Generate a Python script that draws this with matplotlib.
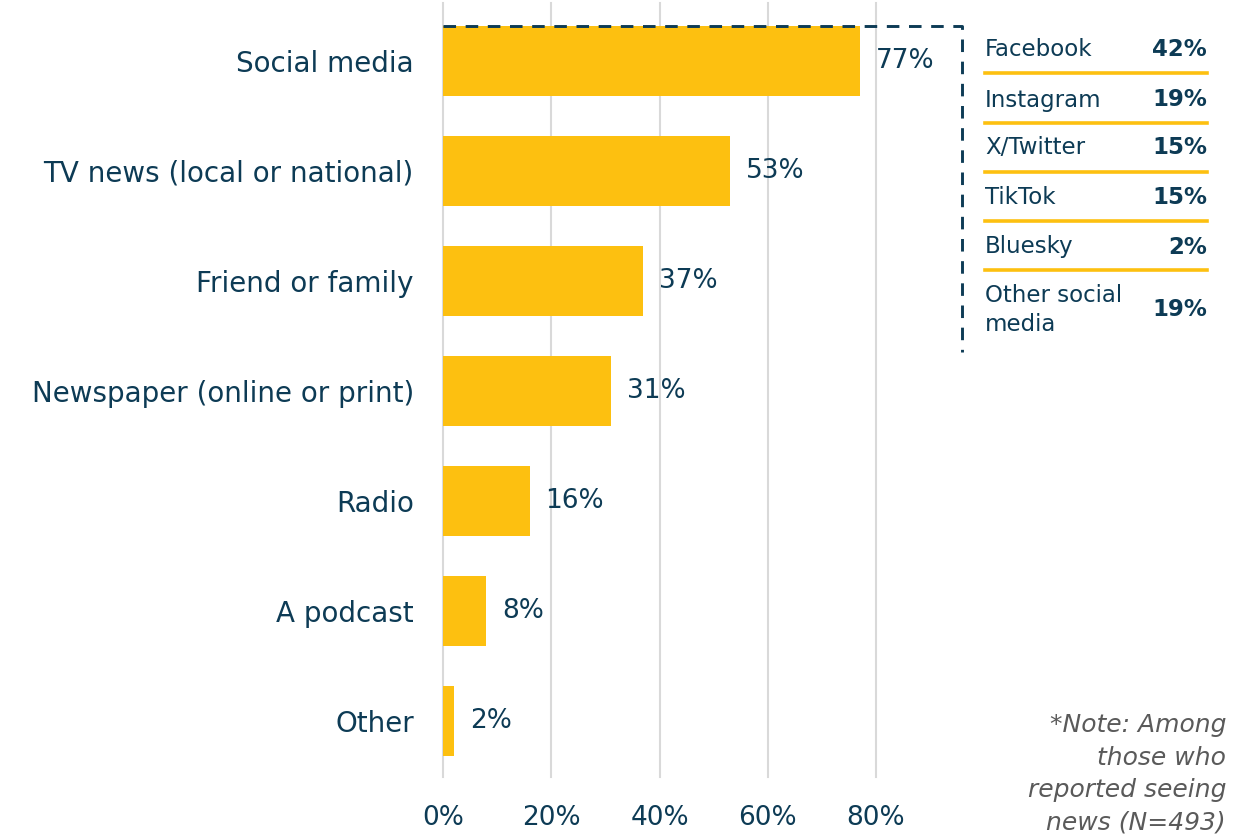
import matplotlib
matplotlib.use("Agg")
import matplotlib.pyplot as plt
from matplotlib.lines import Line2D

# Where people saw news (share of respondents)
categories = ["Social media", "TV news (local or national)", "Friend or family",
              "Newspaper (online or print)", "Radio", "A podcast", "Other"]
values = [77, 53, 37, 31, 16, 8, 2]

# Breakdown of social media platforms
platforms = ["Facebook", "Instagram", "X/Twitter", "TikTok", "Bluesky", "Other social\nmedia"]
platform_values = [42, 19, 15, 15, 2, 19]

xticks = [0, 20, 40, 60, 80]
note = "*Note: Among\nthose who\nreported seeing\nnews (N=493)"

NAVY = "#0d3b55"
GOLD = "#fdc010"
GRID = "#d9d9d9"
FONT = "DejaVu Sans"

W, H = 1234, 836
fig = plt.figure(figsize=(W / 100, H / 100), dpi=100)


def fx(px):
    return px / W


def fy(py):
    return 1 - py / H


ax = fig.add_axes([fx(443), fy(777), fx(876) - fx(443), fy(2.7) - fy(777)])
ypos = list(range(len(categories)))
ax.barh(ypos, values, height=0.64, color=GOLD, zorder=2)
ax.set_xlim(0, 80)
ax.set_ylim(6.51, -0.53)
ax.set_xticks(xticks)
ax.set_xticklabels([f"{t}%" for t in xticks], fontsize=19, color=NAVY, family=FONT)
ax.set_yticks(ypos)
ax.set_yticklabels(categories, fontsize=20, color=NAVY, family=FONT)
ax.tick_params(axis="y", length=0, pad=21)
ax.tick_params(axis="x", length=0, pad=20)
for t in xticks:
    ax.axvline(t, color=GRID, lw=1.5, zorder=1, clip_on=False)
for s in ax.spines.values():
    s.set_visible(False)

for y, v in zip(ypos, values):
    ax.annotate(f"{v}%", xy=(v, y), xytext=(11.5, 0), textcoords="offset points",
                va="center", ha="left", fontsize=19, color=NAVY, family=FONT)

# Dashed bracket linking the social media bar to its breakdown
bracket = Line2D([fx(443), fx(962), fx(962)], [fy(26), fy(26), fy(352)],
                 transform=fig.transFigure, color=NAVY, lw=2.1,
                 linestyle=(0, (4.3, 3.3)), zorder=5)
fig.add_artist(bracket)

# Platform table
row_y = [50, 100, 148, 197, 247, 310]
sep_y = [73, 123, 172, 221, 270]
for name, v, y in zip(platforms, platform_values, row_y):
    fig.text(fx(985), fy(y), name, ha="left", va="center", fontsize=16.5,
             color=NAVY, family=FONT, linespacing=1.35)
    fig.text(fx(1207), fy(y), f"{v}%", ha="right", va="center", fontsize=16.5,
             color=NAVY, family=FONT, fontweight="bold")
for y in sep_y:
    fig.add_artist(Line2D([fx(985), fx(1207)], [fy(y), fy(y)],
                          transform=fig.transFigure, color=GOLD, lw=2.6))

fig.text(fx(1226), fy(774), note, ha="right", va="center", fontsize=18,
         color="#5a5a5a", family=FONT, style="italic", linespacing=1.45)

fig.savefig("out.png", dpi=100)
